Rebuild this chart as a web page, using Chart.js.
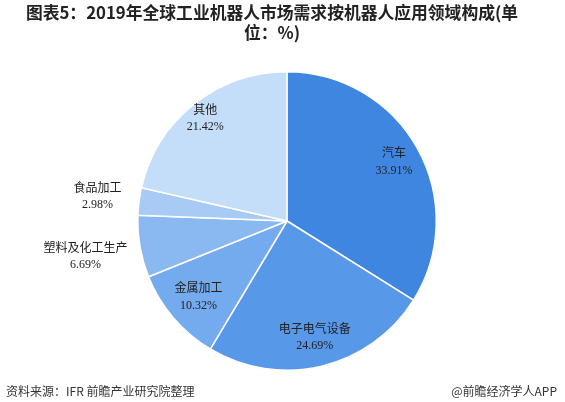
<!DOCTYPE html>
<html><head><meta charset="utf-8">
<script src="https://cdn.jsdelivr.net/npm/chart.js@4/dist/chart.umd.min.js"></script>
<style>
body{margin:0;width:565px;height:402px;background:#fff;position:relative;overflow:hidden;font-family:"Noto Sans CJK SC",sans-serif}
#t{position:absolute;left:6px;top:2px;width:532px;font-size:16.8px;font-weight:bold;color:#222;line-height:20px;text-align:center;white-space:nowrap}
#wrap{position:absolute;left:0;top:0;width:565px;height:402px}
#s{position:absolute;left:6px;top:382px;font-size:12px;color:#333}
#a{position:absolute;right:8px;top:382px;font-size:12px;color:#333}
</style></head><body>
<div id="wrap"><canvas id="c" width="565" height="402"></canvas></div>
<div id="t">图表5：2019年全球工业机器人市场需求按机器人应用领域构成(单<br>位：%)</div>
<div id="s">资料来源：IFR 前瞻产业研究院整理</div>
<div id="a">@前瞻经济学人APP</div>
<script>
const categories=["汽车","电子电气设备","金属加工","塑料及化工生产","食品加工","其他"];
const values=[33.91,24.69,10.32,6.69,2.98,21.42];
const colors=["#3f86e0","#5898e9","#74aaee","#8ab9f1","#a7cbf5","#c4ddf9"];
const labelR=[0.82,0.8,0.78,1.37,1.28,0.88];
const labels={id:'lbl',afterDatasetsDraw(ch){
 const ctx=ch.ctx;const meta=ch.getDatasetMeta(0);
 meta.data.forEach((arc,i)=>{
  const a=(arc.startAngle+arc.endAngle)/2;const r=arc.outerRadius*labelR[i];
  const x=arc.x+Math.cos(a)*r,y=arc.y+Math.sin(a)*r;
  ctx.save();ctx.fillStyle='#222';ctx.textAlign='center';ctx.textBaseline='middle';
  ctx.font='12px "Noto Sans CJK SC"';ctx.fillText(categories[i],x,y-9);
  ctx.font='12px "Liberation Serif"';ctx.fillText(values[i].toFixed(2)+'%',x,y+9);
  ctx.restore();
 });}};
new Chart(document.getElementById('c'),{type:'pie',
 data:{labels:categories,datasets:[{data:values,backgroundColor:colors,borderColor:'#fff',borderWidth:1.5}]},
 options:{responsive:false,animation:false,layout:{padding:{left:137,right:128,top:71,bottom:31}},
  plugins:{legend:{display:false},tooltip:{enabled:false}}},plugins:[labels]});
</script></body></html>
